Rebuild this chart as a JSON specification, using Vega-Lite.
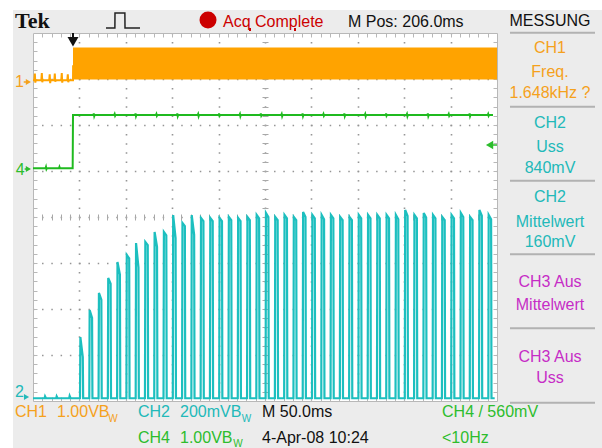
{
"$schema": "https://vega.github.io/schema/vega-lite/v6.json",
"width": 464, "height": 368,
"autosize": {"type": "none"},
"padding": {"left": 33, "top": 33, "right": 105, "bottom": 47},
"background": "#ececec",
"config": {"view": {"fill": "white", "stroke": null}, "text": {"font": "Liberation Sans"}},
"resolve": {"axis": {"x": "independent", "y": "independent"}},
"datasets": {
"strips": [{"x":-0.711,"x2":-0.431,"y":8.717,"y2":-1.022},{"x":-0.711,"x2":12.263,"y":8.717,"y2":8.5}],
"seps": [{"x":10.28,"x2":12.112,"y":8.007},{"x":10.28,"x2":12.112,"y":6.398},{"x":10.28,"x2":12.112,"y":4.789},{"x":10.28,"x2":12.112,"y":3.189},{"x":10.28,"x2":12.112,"y":1.58},{"x":10.28,"x2":12.112,"y":-0.037}],
"band": [{"x":0.862,"x2":10,"y":6.989,"y2":7.685}],
"ch1": [{"x":0,"y":6.975},{"x":0.03,"y":6.975},{"x":0.04,"y":7.12},{"x":0.05,"y":6.92},{"x":0.06,"y":6.975},{"x":0.18,"y":6.975},{"x":0.19,"y":7.13},{"x":0.2,"y":6.93},{"x":0.21,"y":6.975},{"x":0.35,"y":6.975},{"x":0.36,"y":7.1},{"x":0.37,"y":6.91},{"x":0.38,"y":6.975},{"x":0.46,"y":6.975},{"x":0.47,"y":7.12},{"x":0.48,"y":6.94},{"x":0.49,"y":6.975},{"x":0.61,"y":6.975},{"x":0.62,"y":7.13},{"x":0.63,"y":6.92},{"x":0.64,"y":6.975},{"x":0.74,"y":6.975},{"x":0.75,"y":7.1},{"x":0.76,"y":6.93},{"x":0.77,"y":6.975},{"x":0.862,"y":6.975},{"x":0.865,"y":7.3}],
"ch4": [{"x":0,"y":5.059},{"x":0.27,"y":5.059},{"x":0.28,"y":5.09},{"x":0.29,"y":5.04},{"x":0.3,"y":5.059},{"x":0.56,"y":5.059},{"x":0.57,"y":5.09},{"x":0.58,"y":5.059},{"x":0.855,"y":5.059},{"x":0.862,"y":6.217},
{"x":1.3,"y":6.217},{"x":1.31,"y":6.25},{"x":1.32,"y":6.19},{"x":1.33,"y":6.217},
{"x":1.75,"y":6.217},{"x":1.76,"y":6.24},{"x":1.77,"y":6.2},{"x":1.78,"y":6.217},
{"x":2.2,"y":6.217},{"x":2.21,"y":6.25},{"x":2.22,"y":6.19},{"x":2.23,"y":6.217},
{"x":2.65,"y":6.217},{"x":2.66,"y":6.24},{"x":2.67,"y":6.2},{"x":2.68,"y":6.217},
{"x":3.1,"y":6.217},{"x":3.11,"y":6.25},{"x":3.12,"y":6.19},{"x":3.13,"y":6.217},
{"x":3.55,"y":6.217},{"x":3.56,"y":6.24},{"x":3.57,"y":6.19},{"x":3.58,"y":6.217},
{"x":4.0,"y":6.217},{"x":4.01,"y":6.25},{"x":4.02,"y":6.2},{"x":4.03,"y":6.217},
{"x":4.45,"y":6.217},{"x":4.46,"y":6.24},{"x":4.47,"y":6.19},{"x":4.48,"y":6.217},
{"x":4.9,"y":6.217},{"x":4.91,"y":6.25},{"x":4.92,"y":6.2},{"x":4.93,"y":6.217},
{"x":5.35,"y":6.217},{"x":5.36,"y":6.24},{"x":5.37,"y":6.19},{"x":5.38,"y":6.217},
{"x":5.8,"y":6.217},{"x":5.81,"y":6.25},{"x":5.82,"y":6.19},{"x":5.83,"y":6.217},
{"x":6.25,"y":6.217},{"x":6.26,"y":6.24},{"x":6.27,"y":6.2},{"x":6.28,"y":6.217},
{"x":6.7,"y":6.217},{"x":6.71,"y":6.25},{"x":6.72,"y":6.19},{"x":6.73,"y":6.217},
{"x":7.15,"y":6.217},{"x":7.16,"y":6.24},{"x":7.17,"y":6.19},{"x":7.18,"y":6.217},
{"x":7.6,"y":6.217},{"x":7.61,"y":6.25},{"x":7.62,"y":6.2},{"x":7.63,"y":6.217},
{"x":8.05,"y":6.217},{"x":8.06,"y":6.24},{"x":8.07,"y":6.19},{"x":8.08,"y":6.217},
{"x":8.5,"y":6.217},{"x":8.51,"y":6.25},{"x":8.52,"y":6.19},{"x":8.53,"y":6.217},
{"x":8.95,"y":6.217},{"x":8.96,"y":6.24},{"x":8.97,"y":6.2},{"x":8.98,"y":6.217},
{"x":9.4,"y":6.217},{"x":9.41,"y":6.25},{"x":9.42,"y":6.19},{"x":9.43,"y":6.217},
{"x":9.8,"y":6.217},{"x":9.81,"y":6.24},{"x":9.82,"y":6.2},{"x":9.83,"y":6.217},{"x":9.914,"y":6.217}],
"ch2": [{"x":0,"y":0.06},{"x":0.25,"y":0.06},{"x":0.26,"y":0.1},{"x":0.28,"y":0.06},{"x":0.5,"y":0.06},{"x":0.51,"y":0.1},{"x":0.53,"y":0.06},{"x":0.78,"y":0.06},{"x":0.79,"y":0.11},{"x":0.81,"y":0.06},
{"x":1.013,"y":0.06},{"x":1.021,"y":1.391},{"x":1.073,"y":0.957},{"x":1.081,"y":0.06},
{"x":1.213,"y":0.06},{"x":1.221,"y":1.978},{"x":1.273,"y":1.804},{"x":1.281,"y":0.06},
{"x":1.413,"y":0.06},{"x":1.421,"y":2.348},{"x":1.473,"y":2.2},{"x":1.481,"y":0.06},
{"x":1.613,"y":0.06},{"x":1.621,"y":2.674},{"x":1.673,"y":2.55},{"x":1.681,"y":0.06},
{"x":1.813,"y":0.06},{"x":1.821,"y":3.022},{"x":1.873,"y":2.75},{"x":1.881,"y":0.06},
{"x":2.013,"y":0.06},{"x":2.021,"y":3.174},{"x":2.073,"y":3.1},{"x":2.081,"y":0.06},
{"x":2.213,"y":0.06},{"x":2.221,"y":3.435},{"x":2.273,"y":2.9},{"x":2.281,"y":0.06},
{"x":2.413,"y":0.06},{"x":2.421,"y":3.457},{"x":2.473,"y":3.39},{"x":2.481,"y":0.06},
{"x":2.613,"y":0.06},{"x":2.621,"y":3.674},{"x":2.673,"y":3.35},{"x":2.681,"y":0.06},
{"x":2.813,"y":0.06},{"x":2.821,"y":3.674},{"x":2.873,"y":3.6},{"x":2.881,"y":0.06},
{"x":3.013,"y":0.06},{"x":3.021,"y":4.043},{"x":3.073,"y":3.54},{"x":3.081,"y":0.06},
{"x":3.213,"y":0.06},{"x":3.221,"y":3.87},{"x":3.273,"y":3.8},{"x":3.281,"y":0.06},
{"x":3.413,"y":0.06},{"x":3.421,"y":4.043},{"x":3.473,"y":3.61},{"x":3.481,"y":0.06},
{"x":3.613,"y":0.06},{"x":3.621,"y":3.978},{"x":3.673,"y":3.91},{"x":3.681,"y":0.06},
{"x":3.813,"y":0.06},{"x":3.821,"y":3.978},{"x":3.873,"y":3.91},{"x":3.881,"y":0.06},
{"x":4.013,"y":0.06},{"x":4.021,"y":3.978},{"x":4.073,"y":3.91},{"x":4.081,"y":0.06},
{"x":4.213,"y":0.06},{"x":4.221,"y":4.0},{"x":4.273,"y":3.93},{"x":4.281,"y":0.06},
{"x":4.413,"y":0.06},{"x":4.421,"y":3.978},{"x":4.473,"y":3.91},{"x":4.481,"y":0.06},
{"x":4.613,"y":0.06},{"x":4.621,"y":4.0},{"x":4.673,"y":3.93},{"x":4.681,"y":0.06},
{"x":4.813,"y":0.06},{"x":4.821,"y":4.043},{"x":4.873,"y":3.97},{"x":4.881,"y":0.06},
{"x":5.013,"y":0.06},{"x":5.021,"y":4.087},{"x":5.073,"y":4.0},{"x":5.081,"y":0.06},
{"x":5.213,"y":0.06},{"x":5.221,"y":4.0},{"x":5.273,"y":3.93},{"x":5.281,"y":0.06},
{"x":5.413,"y":0.06},{"x":5.421,"y":4.043},{"x":5.473,"y":3.97},{"x":5.481,"y":0.06},
{"x":5.613,"y":0.06},{"x":5.621,"y":4.0},{"x":5.673,"y":3.93},{"x":5.681,"y":0.06},
{"x":5.813,"y":0.06},{"x":5.821,"y":4.109},{"x":5.873,"y":4.0},{"x":5.881,"y":0.06},
{"x":6.013,"y":0.06},{"x":6.021,"y":4.043},{"x":6.073,"y":3.97},{"x":6.081,"y":0.06},
{"x":6.213,"y":0.06},{"x":6.221,"y":4.043},{"x":6.273,"y":3.95},{"x":6.281,"y":0.06},
{"x":6.413,"y":0.06},{"x":6.421,"y":4.043},{"x":6.473,"y":3.97},{"x":6.481,"y":0.06},
{"x":6.613,"y":0.06},{"x":6.621,"y":4.0},{"x":6.673,"y":3.93},{"x":6.681,"y":0.06},
{"x":6.813,"y":0.06},{"x":6.821,"y":4.0},{"x":6.873,"y":3.93},{"x":6.881,"y":0.06},
{"x":7.013,"y":0.06},{"x":7.021,"y":4.043},{"x":7.073,"y":3.97},{"x":7.081,"y":0.06},
{"x":7.213,"y":0.06},{"x":7.221,"y":4.043},{"x":7.273,"y":3.97},{"x":7.281,"y":0.06},
{"x":7.413,"y":0.06},{"x":7.421,"y":4.043},{"x":7.473,"y":3.97},{"x":7.481,"y":0.06},
{"x":7.613,"y":0.06},{"x":7.621,"y":4.043},{"x":7.673,"y":3.97},{"x":7.681,"y":0.06},
{"x":7.813,"y":0.06},{"x":7.821,"y":4.043},{"x":7.873,"y":3.95},{"x":7.881,"y":0.06},
{"x":8.013,"y":0.06},{"x":8.021,"y":4.152},{"x":8.073,"y":4.02},{"x":8.081,"y":0.06},
{"x":8.213,"y":0.06},{"x":8.221,"y":4.043},{"x":8.273,"y":3.97},{"x":8.281,"y":0.06},
{"x":8.413,"y":0.06},{"x":8.421,"y":4.087},{"x":8.473,"y":3.99},{"x":8.481,"y":0.06},
{"x":8.613,"y":0.06},{"x":8.621,"y":4.043},{"x":8.673,"y":3.97},{"x":8.681,"y":0.06},
{"x":8.813,"y":0.06},{"x":8.821,"y":4.0},{"x":8.873,"y":3.93},{"x":8.881,"y":0.06},
{"x":9.013,"y":0.06},{"x":9.021,"y":4.043},{"x":9.073,"y":3.97},{"x":9.081,"y":0.06},
{"x":9.213,"y":0.06},{"x":9.221,"y":4.087},{"x":9.273,"y":4.0},{"x":9.281,"y":0.06},
{"x":9.413,"y":0.06},{"x":9.421,"y":4.0},{"x":9.473,"y":3.93},{"x":9.481,"y":0.06},
{"x":9.613,"y":0.06},{"x":9.621,"y":4.152},{"x":9.673,"y":4.03},{"x":9.681,"y":0.06},
{"x":9.813,"y":0.06},{"x":9.821,"y":4.043},{"x":9.873,"y":3.95},{"x":9.881,"y":0.06},
{"x":9.95,"y":0.06}],
"trir": [{"x":-0.1,"y":6.935,"ch":"CH1"},{"x":-0.1,"y":5.043,"ch":"CH4"},{"x":-0.14,"y":0.087,"ch":"CH2"}],
"tril": [{"x":9.84,"y":5.565,"ch":"CH4"}],
"trid": [{"x":0.862,"y":7.81,"ch":"K"}],
"dot": [{"x":3.772,"y":8.283,"ch":"R"}],
"vr": [{"x":0.862,"y":8.0,"y2":7.85,"ch":"K"},{"x":4.677,"y":8.109,"y2":8.043,"ch":"R"},{"x":5.647,"y":8.109,"y2":8.043,"ch":"R"}],
"hr": [{"x":9.84,"x2":10,"y":5.565,"ch":"CH4"},{"x":-0.2,"x2":-0.08,"y":6.935,"ch":"CH1"},{"x":-0.18,"x2":-0.08,"y":5.043,"ch":"CH4"}],
"icon": [{"x":1.573,"y":8.109},{"x":1.765,"y":8.109},{"x":1.767,"y":8.435},{"x":1.98,"y":8.435},{"x":1.983,"y":8.109},{"x":2.306,"y":8.109}],
"tc": [{"t":"MESSUNG","x":11.142,"y":8.152,"ch":"K"},{"t":"CH1","x":11.142,"y":7.572,"ch":"CH1"},{"t":"Freq.","x":11.142,"y":7.05,"ch":"CH1"},{"t":"1.648kHz ?","x":11.142,"y":6.58,"ch":"CH1"},{"t":"CH2","x":11.142,"y":5.928,"ch":"CH2"},{"t":"Uss","x":11.142,"y":5.42,"ch":"CH2"},{"t":"840mV","x":11.142,"y":4.95,"ch":"CH2"},{"t":"CH2","x":11.142,"y":4.333,"ch":"CH2"},{"t":"Mittelwert","x":11.142,"y":3.789,"ch":"CH2"},{"t":"160mV","x":11.142,"y":3.354,"ch":"CH2"},{"t":"CH3 Aus","x":11.142,"y":2.485,"ch":"CH3"},{"t":"Mittelwert","x":11.142,"y":1.978,"ch":"CH3"},{"t":"CH3 Aus","x":11.142,"y":0.854,"ch":"CH3"},{"t":"Uss","x":11.142,"y":0.385,"ch":"CH3"}],
"tl": [{"t":"Acq Complete","x":4.095,"y":8.137,"ch":"R"},{"t":"M Pos: 206.0ms","x":6.789,"y":8.137,"ch":"K"},{"t":"CH1","x":-0.388,"y":-0.341,"ch":"CH1"},{"t":"1.00VB","x":0.517,"y":-0.341,"ch":"CH1"},{"t":"CH2","x":2.263,"y":-0.341,"ch":"CH2"},{"t":"200mVB","x":3.168,"y":-0.341,"ch":"CH2"},{"t":"M 50.0ms","x":4.935,"y":-0.341,"ch":"K"},{"t":"CH4 / 560mV","x":8.815,"y":-0.341,"ch":"CH4"},{"t":"CH4","x":2.263,"y":-0.92,"ch":"CH4"},{"t":"1.00VB","x":3.168,"y":-0.92,"ch":"CH4"},{"t":"4-Apr-08 10:24","x":4.935,"y":-0.92,"ch":"K"},{"t":"<10Hz","x":8.815,"y":-0.92,"ch":"CH4"},{"t":"1","x":-0.388,"y":6.833,"ch":"CH1"},{"t":"4","x":-0.37,"y":4.913,"ch":"CH4"},{"t":"2","x":-0.388,"y":0.093,"ch":"CH2"}],
"sub": [{"t":"W","x":1.623,"y":-0.45,"ch":"CH1"},{"t":"W","x":4.498,"y":-0.45,"ch":"CH2"},{"t":"W","x":4.317,"y":-0.99,"ch":"CH4"}],
"tek": [{"t":"Tek","x":-0.388,"y":8.102}]
},
"layer": [
{"data": {"name": "strips"}, "mark": {"type": "rect", "color": "white"},
 "encoding": {
  "x": {"field": "x", "type": "quantitative", "scale": {"domain": [0, 10], "nice": false, "zero": false},
        "axis": {"orient": "bottom", "values": [1,2,3,4,5,6,7,8,9], "grid": true, "gridDash": [1.5, 7.7], "gridDashOffset": 0.75, "gridColor": "#959595", "gridWidth": 1.6, "ticks": false, "labels": false, "domain": false, "title": null}},
  "x2": {"field": "x2"},
  "y": {"field": "y", "type": "quantitative", "scale": {"domain": [0, 8], "nice": false, "zero": false},
        "axis": {"orient": "left", "values": [1,2,3,4,5,6,7], "grid": true, "gridDash": [1.5, 7.78], "gridDashOffset": 0.75, "gridColor": "#959595", "gridWidth": 1.6, "ticks": false, "labels": false, "domain": false, "title": null}},
  "y2": {"field": "y2"}}},
{"data": {"name": "seps"}, "mark": {"type": "rule", "color": "#b2b2b2", "strokeWidth": 2},
 "encoding": {
  "x": {"field": "x", "type": "quantitative", "scale": {"domain": [0, 10], "nice": false, "zero": false},
        "axis": {"orient": "bottom", "values": [0.2,0.4,0.6,0.8,1,1.2,1.4,1.6,1.8,2,2.2,2.4,2.6,2.8,3,3.2,3.4,3.6,3.8,4,4.2,4.4,4.6,4.8,5,5.2,5.4,5.6,5.8,6,6.2,6.4,6.6,6.8,7,7.2,7.4,7.6,7.8,8,8.2,8.4,8.6,8.8,9,9.2,9.4,9.6,9.8], "grid": false, "domain": true, "domainColor": "#b8b8b8", "ticks": true, "tickColor": "#b8b8b8", "tickSize": -4, "labels": false, "title": null}},
  "x2": {"field": "x2"},
  "y": {"field": "y", "type": "quantitative", "scale": {"domain": [0, 8], "nice": false, "zero": false},
        "axis": {"orient": "left", "values": [0.2,0.4,0.6,0.8,1,1.2,1.4,1.6,1.8,2,2.2,2.4,2.6,2.8,3,3.2,3.4,3.6,3.8,4,4.2,4.4,4.6,4.8,5,5.2,5.4,5.6,5.8,6,6.2,6.4,6.6,6.8,7,7.2,7.4,7.6,7.8], "grid": false, "domain": true, "domainColor": "#b8b8b8", "ticks": true, "tickColor": "#b8b8b8", "tickSize": -4, "labels": false, "title": null}}}},
{"data": {"name": "band"}, "mark": {"type": "rect", "color": "#ffa300"},
 "encoding": {
  "x": {"field": "x", "type": "quantitative", "scale": {"domain": [0, 10], "nice": false, "zero": false},
        "axis": {"orient": "top", "values": [0.2,0.4,0.6,0.8,1,1.2,1.4,1.6,1.8,2,2.2,2.4,2.6,2.8,3,3.2,3.4,3.6,3.8,4,4.2,4.4,4.6,4.8,5,5.2,5.4,5.6,5.8,6,6.2,6.4,6.6,6.8,7,7.2,7.4,7.6,7.8,8,8.2,8.4,8.6,8.8,9,9.2,9.4,9.6,9.8], "grid": false, "domain": true, "domainColor": "#b8b8b8", "ticks": true, "tickColor": "#b8b8b8", "tickSize": -4, "labels": false, "title": null}},
  "x2": {"field": "x2"},
  "y": {"field": "y", "type": "quantitative", "scale": {"domain": [0, 8], "nice": false, "zero": false},
        "axis": {"orient": "right", "values": [0.2,0.4,0.6,0.8,1,1.2,1.4,1.6,1.8,2,2.2,2.4,2.6,2.8,3,3.2,3.4,3.6,3.8,4,4.2,4.4,4.6,4.8,5,5.2,5.4,5.6,5.8,6,6.2,6.4,6.6,6.8,7,7.2,7.4,7.6,7.8], "grid": false, "domain": true, "domainColor": "#b8b8b8", "ticks": true, "tickColor": "#b8b8b8", "tickSize": -4, "labels": false, "title": null}},
  "y2": {"field": "y2"}}},
{"data": {"name": "ch1"}, "mark": {"type": "line", "color": "#ffa300", "strokeWidth": 2},
 "encoding": {
  "x": {"field": "x", "type": "quantitative", "scale": {"domain": [0, 10], "nice": false, "zero": false},
        "axis": {"orient": "bottom", "offset": -187, "values": [0.2,0.4,0.6,0.8,1,1.2,1.4,1.6,1.8,2,2.2,2.4,2.6,2.8,3,3.2,3.4,3.6,3.8,4,4.2,4.4,4.6,4.8,5,5.2,5.4,5.6,5.8,6,6.2,6.4,6.6,6.8,7,7.2,7.4,7.6,7.8,8,8.2,8.4,8.6,8.8,9,9.2,9.4,9.6,9.8], "grid": false, "domain": false, "ticks": true, "tickColor": "#a8a8a8", "tickSize": 6, "labels": false, "title": null}},
  "y": {"field": "y", "type": "quantitative", "scale": {"domain": [0, 8], "nice": false, "zero": false},
        "axis": {"orient": "left", "offset": -235, "values": [0.2,0.4,0.6,0.8,1,1.2,1.4,1.6,1.8,2,2.2,2.4,2.6,2.8,3,3.2,3.4,3.6,3.8,4,4.2,4.4,4.6,4.8,5,5.2,5.4,5.6,5.8,6,6.2,6.4,6.6,6.8,7,7.2,7.4,7.6,7.8], "grid": false, "domain": false, "ticks": true, "tickColor": "#a8a8a8", "tickSize": 6, "labels": false, "title": null}}}},
{"data": {"name": "ch4"}, "mark": {"type": "line", "color": "#1fba1f", "strokeWidth": 2},
 "encoding": {
  "x": {"field": "x", "type": "quantitative", "scale": {"domain": [0, 10], "nice": false, "zero": false}, "axis": null},
  "y": {"field": "y", "type": "quantitative", "scale": {"domain": [0, 8], "nice": false, "zero": false}, "axis": null}}},
{"data": {"name": "ch2"}, "mark": {"type": "line", "color": "#1cbfbf", "strokeWidth": 2.2},
 "encoding": {
  "x": {"field": "x", "type": "quantitative", "scale": {"domain": [0, 10], "nice": false, "zero": false}, "axis": null},
  "y": {"field": "y", "type": "quantitative", "scale": {"domain": [0, 8], "nice": false, "zero": false}, "axis": null}}},
{"data": {"name": "trir"}, "mark": {"type": "point", "shape": "triangle-right", "filled": true, "size": 35, "opacity": 1},
 "encoding": {
  "x": {"field": "x", "type": "quantitative", "scale": {"domain": [0, 10], "nice": false, "zero": false}, "axis": null},
  "y": {"field": "y", "type": "quantitative", "scale": {"domain": [0, 8], "nice": false, "zero": false}, "axis": null},
  "color": {"field": "ch", "type": "nominal", "legend": null, "scale": {"domain": ["CH1","CH2","CH3","CH4","K","R"], "range": ["#f5a11c","#22b9b9","#c62cc6","#2dbd2d","#111111","#cc0000"]}}}},
{"data": {"name": "tril"}, "mark": {"type": "point", "shape": "triangle-left", "filled": true, "size": 70, "opacity": 1},
 "encoding": {
  "x": {"field": "x", "type": "quantitative", "scale": {"domain": [0, 10], "nice": false, "zero": false}, "axis": null},
  "y": {"field": "y", "type": "quantitative", "scale": {"domain": [0, 8], "nice": false, "zero": false}, "axis": null},
  "color": {"field": "ch", "type": "nominal", "legend": null, "scale": {"domain": ["CH1","CH2","CH3","CH4","K","R"], "range": ["#f5a11c","#22b9b9","#c62cc6","#2dbd2d","#111111","#cc0000"]}}}},
{"data": {"name": "trid"}, "mark": {"type": "point", "shape": "triangle-down", "filled": true, "size": 120, "opacity": 1},
 "encoding": {
  "x": {"field": "x", "type": "quantitative", "scale": {"domain": [0, 10], "nice": false, "zero": false}, "axis": null},
  "y": {"field": "y", "type": "quantitative", "scale": {"domain": [0, 8], "nice": false, "zero": false}, "axis": null},
  "color": {"field": "ch", "type": "nominal", "legend": null, "scale": {"domain": ["CH1","CH2","CH3","CH4","K","R"], "range": ["#f5a11c","#22b9b9","#c62cc6","#2dbd2d","#111111","#cc0000"]}}}},
{"data": {"name": "dot"}, "mark": {"type": "point", "shape": "circle", "filled": true, "size": 289, "opacity": 1},
 "encoding": {
  "x": {"field": "x", "type": "quantitative", "scale": {"domain": [0, 10], "nice": false, "zero": false}, "axis": null},
  "y": {"field": "y", "type": "quantitative", "scale": {"domain": [0, 8], "nice": false, "zero": false}, "axis": null},
  "color": {"field": "ch", "type": "nominal", "legend": null, "scale": {"domain": ["CH1","CH2","CH3","CH4","K","R"], "range": ["#f5a11c","#22b9b9","#c62cc6","#2dbd2d","#111111","#cc0000"]}}}},
{"data": {"name": "vr"}, "mark": {"type": "rule", "strokeWidth": 2},
 "encoding": {
  "x": {"field": "x", "type": "quantitative", "scale": {"domain": [0, 10], "nice": false, "zero": false}, "axis": null},
  "y": {"field": "y", "type": "quantitative", "scale": {"domain": [0, 8], "nice": false, "zero": false}, "axis": null},
  "y2": {"field": "y2"},
  "color": {"field": "ch", "type": "nominal", "legend": null, "scale": {"domain": ["CH1","CH2","CH3","CH4","K","R"], "range": ["#f5a11c","#22b9b9","#c62cc6","#2dbd2d","#111111","#cc0000"]}}}},
{"data": {"name": "hr"}, "mark": {"type": "rule", "strokeWidth": 1.5},
 "encoding": {
  "x": {"field": "x", "type": "quantitative", "scale": {"domain": [0, 10], "nice": false, "zero": false}, "axis": null},
  "x2": {"field": "x2"},
  "y": {"field": "y", "type": "quantitative", "scale": {"domain": [0, 8], "nice": false, "zero": false}, "axis": null},
  "color": {"field": "ch", "type": "nominal", "legend": null, "scale": {"domain": ["CH1","CH2","CH3","CH4","K","R"], "range": ["#f5a11c","#22b9b9","#c62cc6","#2dbd2d","#111111","#cc0000"]}}}},
{"data": {"name": "icon"}, "mark": {"type": "line", "color": "#222222", "strokeWidth": 1.5, "interpolate": "linear"},
 "encoding": {
  "x": {"field": "x", "type": "quantitative", "scale": {"domain": [0, 10], "nice": false, "zero": false}, "axis": null},
  "y": {"field": "y", "type": "quantitative", "scale": {"domain": [0, 8], "nice": false, "zero": false}, "axis": null}}},
{"data": {"name": "tc"}, "mark": {"type": "text", "align": "center", "baseline": "alphabetic", "fontSize": 16, "font": "Liberation Sans"},
 "encoding": {
  "x": {"field": "x", "type": "quantitative", "scale": {"domain": [0, 10], "nice": false, "zero": false}, "axis": null},
  "y": {"field": "y", "type": "quantitative", "scale": {"domain": [0, 8], "nice": false, "zero": false}, "axis": null},
  "text": {"field": "t"},
  "color": {"field": "ch", "type": "nominal", "legend": null, "scale": {"domain": ["CH1","CH2","CH3","CH4","K","R"], "range": ["#f5a11c","#22b9b9","#c62cc6","#2dbd2d","#111111","#cc0000"]}}}},
{"data": {"name": "tl"}, "mark": {"type": "text", "align": "left", "baseline": "alphabetic", "fontSize": 16, "font": "Liberation Sans"},
 "encoding": {
  "x": {"field": "x", "type": "quantitative", "scale": {"domain": [0, 10], "nice": false, "zero": false}, "axis": null},
  "y": {"field": "y", "type": "quantitative", "scale": {"domain": [0, 8], "nice": false, "zero": false}, "axis": null},
  "text": {"field": "t"},
  "color": {"field": "ch", "type": "nominal", "legend": null, "scale": {"domain": ["CH1","CH2","CH3","CH4","K","R"], "range": ["#f5a11c","#22b9b9","#c62cc6","#2dbd2d","#111111","#cc0000"]}}}},
{"data": {"name": "sub"}, "mark": {"type": "text", "align": "left", "baseline": "alphabetic", "fontSize": 10, "font": "Liberation Sans"},
 "encoding": {
  "x": {"field": "x", "type": "quantitative", "scale": {"domain": [0, 10], "nice": false, "zero": false}, "axis": null},
  "y": {"field": "y", "type": "quantitative", "scale": {"domain": [0, 8], "nice": false, "zero": false}, "axis": null},
  "text": {"field": "t"},
  "color": {"field": "ch", "type": "nominal", "legend": null, "scale": {"domain": ["CH1","CH2","CH3","CH4","K","R"], "range": ["#f5a11c","#22b9b9","#c62cc6","#2dbd2d","#111111","#cc0000"]}}}},
{"data": {"name": "tek"}, "mark": {"type": "text", "align": "left", "baseline": "alphabetic", "fontSize": 22, "font": "Liberation Serif", "fontWeight": "bold", "color": "#111111"},
 "encoding": {
  "x": {"field": "x", "type": "quantitative", "scale": {"domain": [0, 10], "nice": false, "zero": false}, "axis": null},
  "y": {"field": "y", "type": "quantitative", "scale": {"domain": [0, 8], "nice": false, "zero": false}, "axis": null},
  "text": {"field": "t"}}}
]
}
